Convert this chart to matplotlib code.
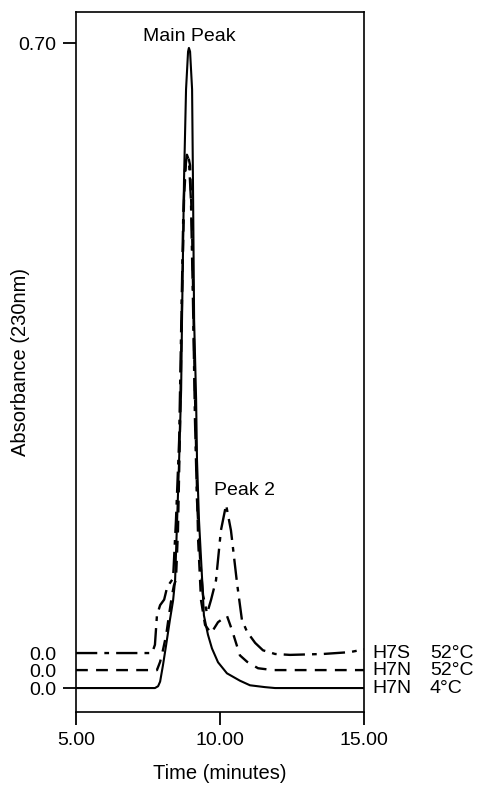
import matplotlib
matplotlib.use('Agg')
import matplotlib.pyplot as plt

plt.rcParams['font.family'] = ['Liberation Sans', 'DejaVu Sans']

# H7N 4C (solid)
t_4c = [5.00, 7.74, 7.85, 7.92, 8.02, 8.13, 8.26, 8.37, 8.44, 8.51, 8.58, 8.65, 8.68, 8.75, 8.82,
        8.89, 8.92, 8.96, 9.03, 9.06, 9.10, 9.17, 9.20, 9.27, 9.38, 9.44, 9.58, 9.72, 9.93, 10.24,
        10.69, 11.04, 11.56, 11.91, 15.00]
a_4c = [0, 0, 0.002, 0.007, 0.025, 0.047, 0.074, 0.095, 0.117, 0.182, 0.248, 0.324, 0.40, 0.552, 0.650,
        0.691, 0.695, 0.691, 0.650, 0.552, 0.40, 0.313, 0.248, 0.182, 0.117, 0.079, 0.058, 0.043, 0.028, 0.016,
        0.008, 0.003, 0.001, 0, 0]

# H7N 52C (dashed)
t_n52 = [5.00, 7.81, 7.92, 8.02, 8.13, 8.23, 8.33, 8.40, 8.47, 8.54, 8.61, 8.68, 8.75, 8.82, 8.89,
         8.96, 9.03, 9.10, 9.17, 9.24, 9.34, 9.48, 9.69, 9.93, 10.24, 10.42, 10.69, 10.94, 11.32, 11.84, 15.00]
a_n52 = [0, 0, 0.009, 0.022, 0.038, 0.060, 0.081, 0.092, 0.098, 0.152, 0.261, 0.402, 0.510, 0.554, 0.559,
         0.548, 0.478, 0.347, 0.239, 0.141, 0.076, 0.049, 0.040, 0.052, 0.059, 0.043, 0.016, 0.009, 0.002, 0, 0]

# H7S 52C (dash-dot)
t_s52 = [5.00, 7.64, 7.74, 7.81, 7.92, 8.06, 8.16, 8.26, 8.37, 8.47, 8.58, 8.65, 8.72, 8.78, 8.85,
         8.92, 8.99, 9.06, 9.13, 9.20, 9.31, 9.41, 9.55, 9.69, 9.86, 10.03, 10.21, 10.38, 10.59, 10.76,
         10.94, 11.22, 11.49, 11.91, 12.43, 13.58, 14.51, 15.00]
a_s52 = [0, 0, 0.009, 0.041, 0.052, 0.058, 0.071, 0.076, 0.081, 0.144, 0.231, 0.351, 0.470, 0.524, 0.541,
         0.535, 0.492, 0.383, 0.253, 0.166, 0.101, 0.063, 0.043, 0.058, 0.079, 0.133, 0.161, 0.133, 0.076, 0.036,
         0.023, 0.011, 0.003, -0.001, -0.002, -0.001, 0.001, 0.004]

samples = ['H7S', 'H7N', 'H7N']
temps = ['52°C', '52°C', '4°C']
offsets = [0.038, 0.0195, 0.0]

fig = plt.figure(figsize=(4.79, 7.85), dpi=100)
ax = fig.add_axes([0.1587, 0.093, 0.6013, 0.8917])

ax.plot(t_s52, [a + offsets[0] for a in a_s52], color='black', lw=1.7, dashes=[9, 3, 2, 3])
ax.plot(t_n52, [a + offsets[1] for a in a_n52], color='black', lw=1.7, dashes=[5, 3.5])
ax.plot(t_4c, [a + offsets[2] for a in a_4c], color='black', lw=1.5)

ax.set_xlim(5, 15)
ax.set_ylim(-0.026, 0.734)
ax.set_xticks([5, 10, 15])
ax.set_xticklabels(['5.00', '10.00', '15.00'])
ax.set_yticks([0.0, offsets[1], offsets[0], 0.70])
ax.set_yticklabels(['0.0', '0.0', '0.0', '0.70'])
ax.tick_params(direction='out', length=9.5, width=1.3, labelsize=14, pad=5)
yt = ax.yaxis.get_major_ticks()
yt[1].tick1line.set_visible(False)
yt[2].tick1line.set_visible(False)
for s in ax.spines.values():
    s.set_linewidth(1.2)

ax.set_xlabel('Time (minutes)', fontsize=14.5)
ax.set_ylabel('Absorbance (230nm)', fontsize=14.5)
ax.xaxis.set_label_coords(0.5, -0.075)
ax.yaxis.set_label_coords(-0.16, 0.50)

ax.text(8.92, 0.702, 'Main Peak', fontsize=14, ha='center', va='baseline')
ax.text(10.85, 0.21, 'Peak 2', fontsize=14, ha='center', va='baseline')

for name, temp, off in zip(samples, temps, offsets):
    ax.text(1.028, off, name, transform=ax.get_yaxis_transform(), fontsize=14, va='center', ha='left', clip_on=False)
    ax.text(1.229, off, temp, transform=ax.get_yaxis_transform(), fontsize=14, va='center', ha='left', clip_on=False)

fig.savefig('out.png', dpi=100)
